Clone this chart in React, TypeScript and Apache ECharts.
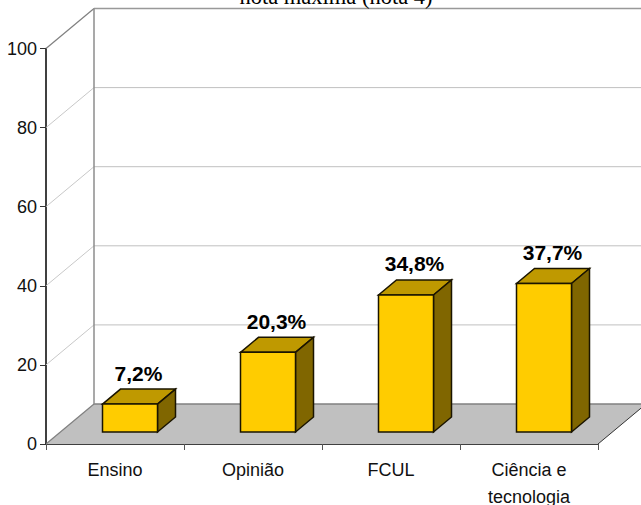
import React, { useEffect, useRef } from "react";
import * as echarts from "echarts";

const categories = ["Ensino", "Opinião", "FCUL", "Ciência e\ntecnologia"];
const values = [7.2, 20.3, 34.8, 37.7];
const valueLabels = ["7,2%", "20,3%", "34,8%", "37,7%"];
const yTicks = [0, 20, 40, 60, 80, 100];
const titleText = "nota máxima (nota 4)";

const DEPTH_X = 48;
const DEPTH_Y = -40;
const BAR_DX = 18;
const BAR_DY = -15;
const BAR_FRONT = 0.3;
const BAR_W = 55;

function lineEl(x1: number, y1: number, x2: number, y2: number, stroke: string, lineWidth = 1, z2 = 0) {
  return { type: "line", z2, shape: { x1, y1, x2, y2 }, style: { stroke, lineWidth, fill: "none" }, silent: true };
}
function polyEl(points: number[][], fill: string, stroke: string, lineWidth: number, z2 = 0) {
  return { type: "polygon", z2, shape: { points }, style: { fill, stroke, lineWidth, lineJoin: "miter" }, silent: true };
}

export default function App() {
  const ref = useRef<HTMLDivElement>(null);
  useEffect(() => {
    const chart = echarts.init(ref.current!, undefined, { renderer: "svg" });
    chart.setOption({
      animation: false,
      backgroundColor: "#ffffff",
      title: {
        text: titleText,
        left: 331,
        top: -20,
        textAlign: "center",
        textStyle: { fontFamily: "Liberation Serif", fontSize: 22.5, fontWeight: "normal", color: "#000" },
      },
      grid: { left: 46, right: 43, top: 48.5, bottom: 61, outerBoundsMode: "none" },
      xAxis: {
        type: "category",
        data: categories,
        axisLine: { show: true, lineStyle: { color: "#000", width: 1.5 } },
        axisTick: { show: true, length: 6, alignWithLabel: false, lineStyle: { color: "#555", width: 1 } },
        axisLabel: {
          color: "#111",
          fontFamily: "Liberation Sans",
          fontSize: 18,
          lineHeight: 27,
          margin: 12,
          interval: 0,
        },
      },
      yAxis: {
        type: "value",
        min: 0,
        max: 100,
        interval: 20,
        axisLine: { show: true, lineStyle: { color: "#000", width: 1.5 } },
        axisTick: { show: true, length: 6, lineStyle: { color: "#333", width: 1 } },
        axisLabel: { color: "#111", fontFamily: "Liberation Sans", fontSize: 18, margin: 9 },
        splitLine: { show: false },
      },
      series: [
        {
          type: "custom",
          coordinateSystem: "cartesian2d",
          data: yTicks.map((t) => [0, t]),
          silent: true,
          z: 1,
          renderItem: (_p: any, api: any) => {
            const t = api.value(1);
            const [x0, y] = api.coord([0, t]);
            const size = api.size([1, 1]);
            const left = x0 - size[0] / 2;
            const right = left + size[0] * 4;
            const bx = left + DEPTH_X;
            const by = y + DEPTH_Y;
            const bright = Math.min(right + DEPTH_X, 641);
            const children: any[] = [];
            if (t === 0) {
              children.push(
                polyEl(
                  [[left, y], [bx, by], [right + DEPTH_X, by], [right, y]],
                  "#c0c0c0", "none", 0, 0
                ),
                lineEl(left, y, bx, by, "#808080", 1.2, 1),
                lineEl(bx, by, bright, by, "#808080", 1.5, 1),
                lineEl(right, y, right + DEPTH_X, by, "#333", 1, 1),
              );
            } else if (t === 100) {
              children.push(
                lineEl(left, y, bx, by, "#808080", 1.2, 1),
                lineEl(bx, by, bright, by, "#999", 1.5, 1),
                lineEl(bx, by, bx, y + DEPTH_Y + api.size([0, 100])[1], "#8c8c8c", 1.5, 2),
              );
            } else {
              children.push(
                lineEl(left, y, bx, by, "#c8c8c8", 1, 1),
                lineEl(bx, by, bright, by, "#c0c0c0", 1, 1),
              );
            }
            return { type: "group", children };
          },
        },
        {
          type: "custom",
          coordinateSystem: "cartesian2d",
          data: values.map((v, i) => [i, v]),
          silent: true,
          z: 3,
          renderItem: (_p: any, api: any) => {
            const i = api.value(0);
            const v = api.value(1);
            const [cx, yBase] = api.coord([i, 0]);
            const [, yTop] = api.coord([i, v]);
            const ox = DEPTH_X * BAR_FRONT + 0.6;
            const oy = DEPTH_Y * BAR_FRONT;
            const x1 = cx + ox - BAR_W / 2;
            const x2 = x1 + BAR_W;
            const yb = yBase + oy;
            const yt = yTop + oy + 0.6;
            const sw = 1.5;
            return {
              type: "group",
              children: [
                polyEl([[x1, yt], [x1 + BAR_DX, yt + BAR_DY], [x2 + BAR_DX, yt + BAR_DY], [x2, yt]], "#bf9900", "#1a1400", sw, 1),
                polyEl([[x2, yt], [x2 + BAR_DX, yt + BAR_DY], [x2 + BAR_DX, yb + BAR_DY], [x2, yb]], "#806600", "#1a1400", sw, 1),
                polyEl([[x1, yt], [x2, yt], [x2, yb], [x1, yb]], "#ffcc00", "#1a1400", sw, 2),
                {
                  type: "text",
                  z2: 5,
                  style: {
                    x: x1 + BAR_W / 2 + 8.5,
                    y: yt + BAR_DY - 5.5,
                    text: valueLabels[i],
                    fill: "#000",
                    font: "bold 21px 'Liberation Sans'",
                    align: "center",
                    verticalAlign: "bottom",
                  },
                },
              ],
            };
          },
        },
      ],
    });
    return () => chart.dispose();
  }, []);
  return <div ref={ref} style={{ width: 641, height: 505, position: "fixed", left: 0, top: 0 }} />;
}
